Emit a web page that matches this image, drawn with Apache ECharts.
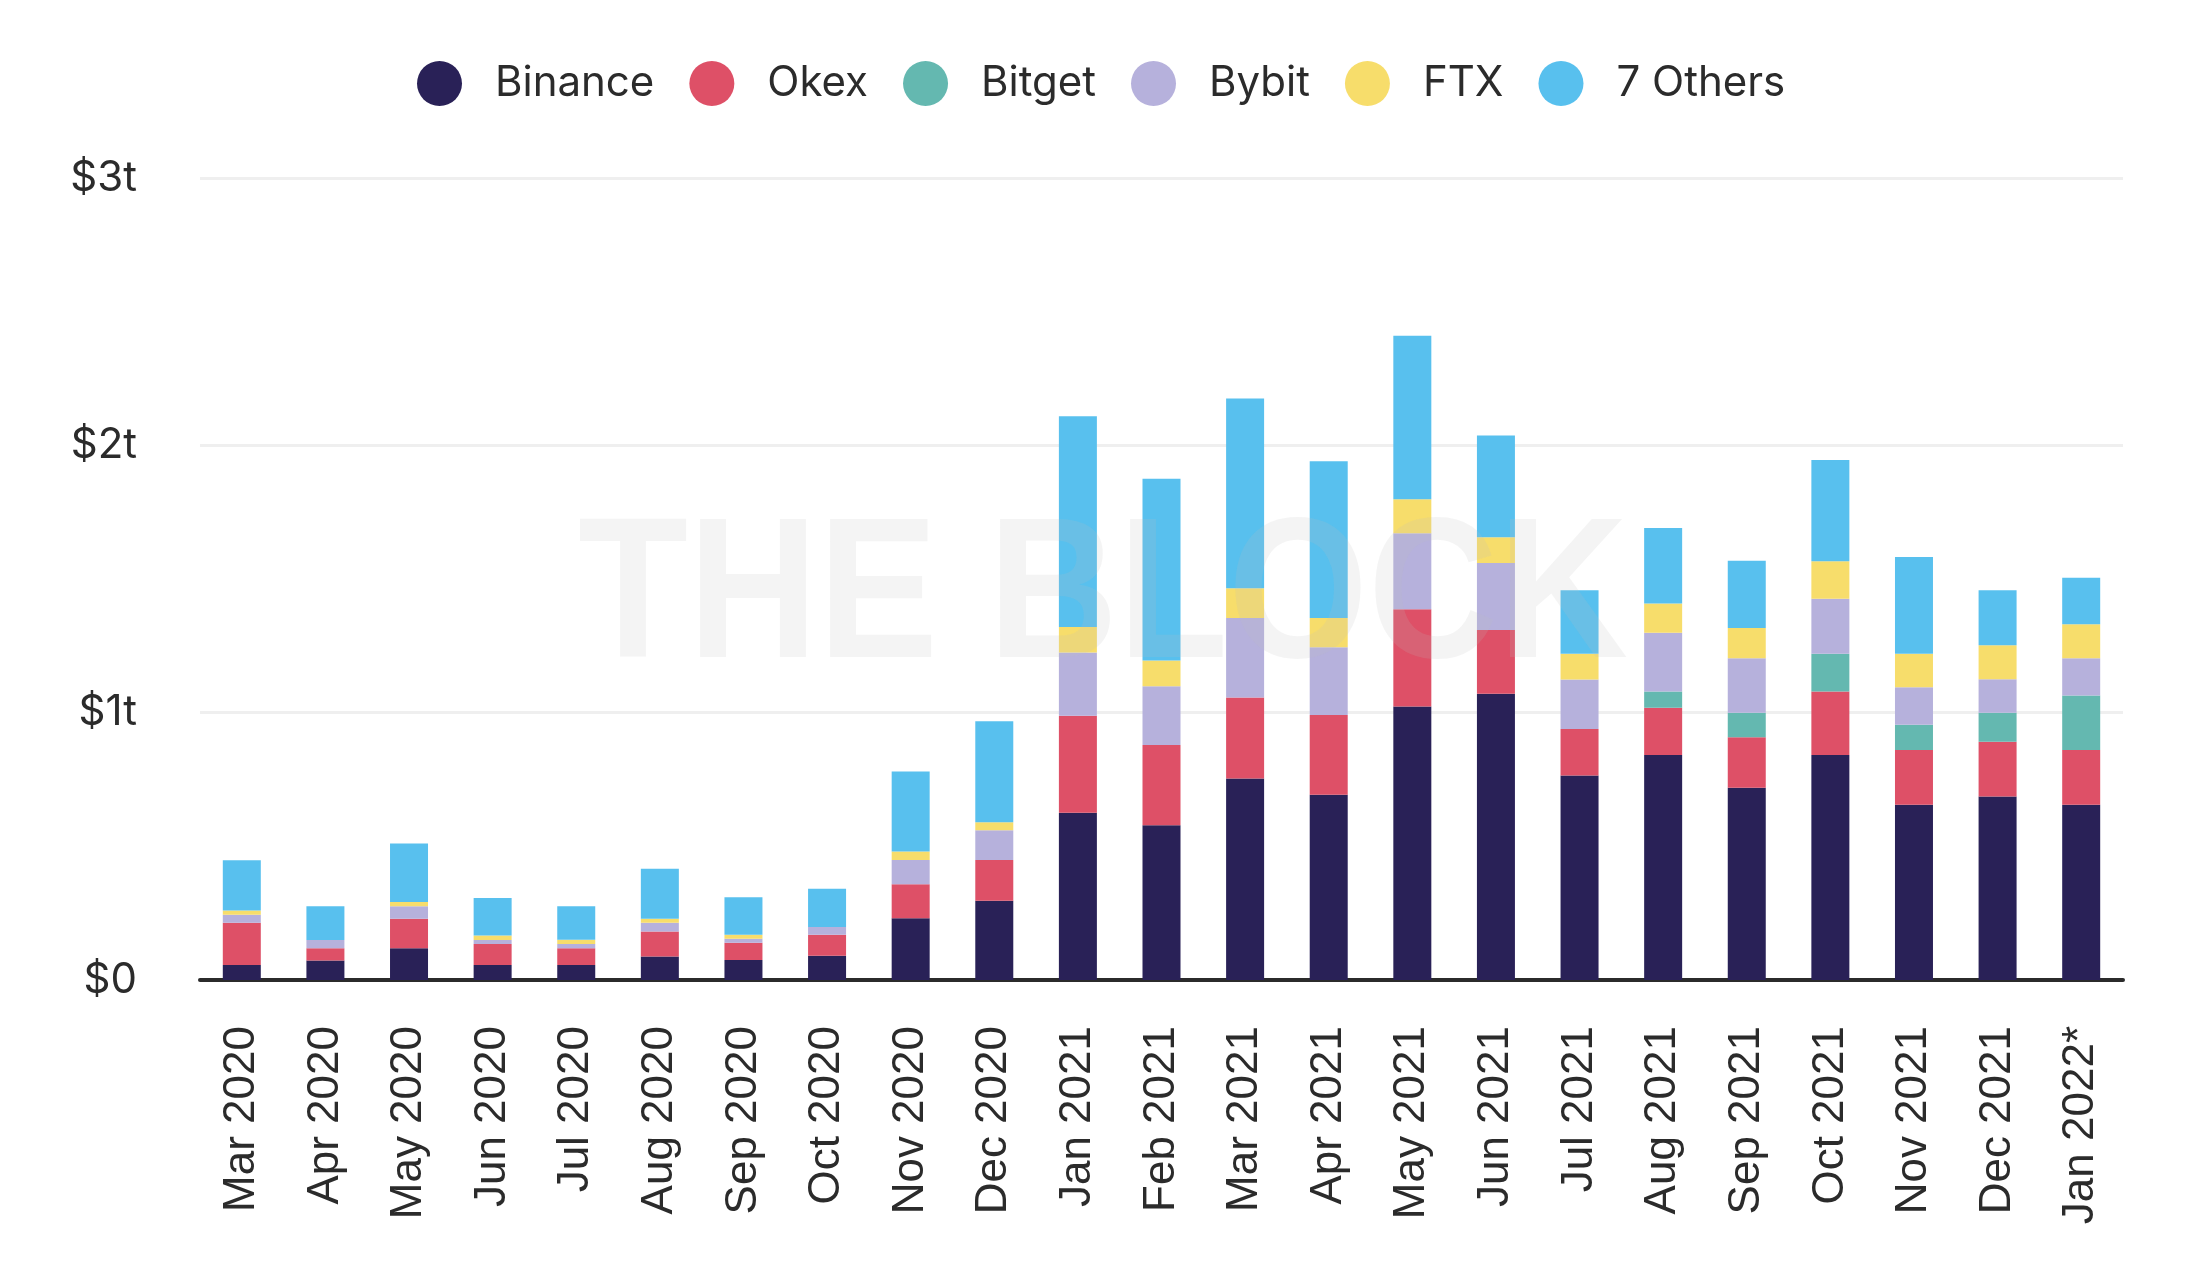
<!DOCTYPE html>
<html>
<head>
<meta charset="utf-8">
<script src="https://cdn.jsdelivr.net/npm/echarts@6/dist/echarts.min.js"></script>
<style>
html,body{margin:0;padding:0;background:#fff;}
#chart{width:2186px;height:1278px;}
</style>
</head>
<body>
<div id="chart"></div>
<script>
// Values in trillions of USD
var months = ['Mar 2020','Apr 2020','May 2020','Jun 2020','Jul 2020','Aug 2020','Sep 2020','Oct 2020','Nov 2020','Dec 2020','Jan 2021','Feb 2021','Mar 2021','Apr 2021','May 2021','Jun 2021','Jul 2021','Aug 2021','Sep 2021','Oct 2021','Nov 2021','Dec 2021','Jan 2022*'];
var binance = [0.056,0.073,0.119,0.056,0.056,0.088,0.075,0.091,0.231,0.296,0.626,0.579,0.754,0.693,1.023,1.071,0.765,0.842,0.719,0.842,0.656,0.686,0.656];
var okex    = [0.158,0.046,0.110,0.079,0.063,0.093,0.064,0.078,0.127,0.153,0.362,0.300,0.303,0.298,0.364,0.238,0.174,0.176,0.189,0.237,0.204,0.205,0.204];
var bitget  = [0,0,0,0,0,0,0,0,0,0,0,0,0,0,0,0,0,0.061,0.092,0.141,0.095,0.109,0.204];
var bybit   = [0.030,0.031,0.047,0.015,0.016,0.033,0.015,0.029,0.091,0.111,0.237,0.220,0.297,0.254,0.284,0.251,0.185,0.220,0.204,0.206,0.140,0.125,0.140];
var ftx     = [0.016,0,0.016,0.016,0.016,0.015,0.015,0,0.032,0.030,0.095,0.096,0.111,0.109,0.127,0.096,0.096,0.109,0.113,0.140,0.125,0.127,0.127];
var others  = [0.188,0.126,0.219,0.141,0.125,0.187,0.141,0.143,0.299,0.378,0.789,0.680,0.710,0.586,0.612,0.381,0.238,0.283,0.251,0.379,0.362,0.206,0.174];
var seriesNames = ['Binance','Okex','Bitget','Bybit','FTX','7 Others'];
var seriesColors = ['#292157','#de5067','#64b8b0','#b6b1dc','#f7dd6b','#58c0ee'];
var seriesData = [binance, okex, bitget, bybit, ftx, others];

var chart = echarts.init(document.getElementById('chart'), null, {renderer:'canvas'});
var series = seriesNames.map(function(n,i){
  return {
    name:n, type:'bar', stack:'total', barWidth:38,
    itemStyle:{color:seriesColors[i]},
    emphasis:{disabled:true},
    data:seriesData[i]
  };
});
chart.setOption({
  animation:false,
  backgroundColor:'#ffffff',
  color:seriesColors,
  legend:{
    top:56, left:412,
    icon:'circle', itemWidth:45, itemHeight:45, itemGap:35,
    textStyle:{fontFamily:'Inter', fontSize:42, color:'#2b2b2b', padding:[0,0,0,28]},
    data:seriesNames
  },
  grid:{left:200, right:63, top:178, bottom:298},
  xAxis:{
    type:'category', data:months,
    axisLine:{show:true, lineStyle:{color:'#2b2b2b', width:4}},
    axisTick:{show:false},
    axisLabel:{rotate:90, margin:46, fontFamily:'Liberation Sans', fontSize:44, color:'#2b2b2b'}
  },
  yAxis:{
    type:'value', min:0, max:3, interval:1,
    axisLine:{show:false}, axisTick:{show:false},
    splitLine:{lineStyle:{color:'#efefef', width:3}},
    axisLabel:{margin:63, fontFamily:'Inter', fontSize:42, color:'#2b2b2b',
      formatter:function(v){return v===0?'$0':'$'+v+'t';}}
  },
  graphic:[{
    type:'text', left:578, top:502, z:100, silent:true,
    scaleX:0.9,
    style:{text:'THE BLOCK', fontFamily:'Liberation Sans', fontWeight:'bold', fontSize:200, fill:'rgba(190,190,190,0.17)'}
  }],
  series:series
});
</script>
</body>
</html>
